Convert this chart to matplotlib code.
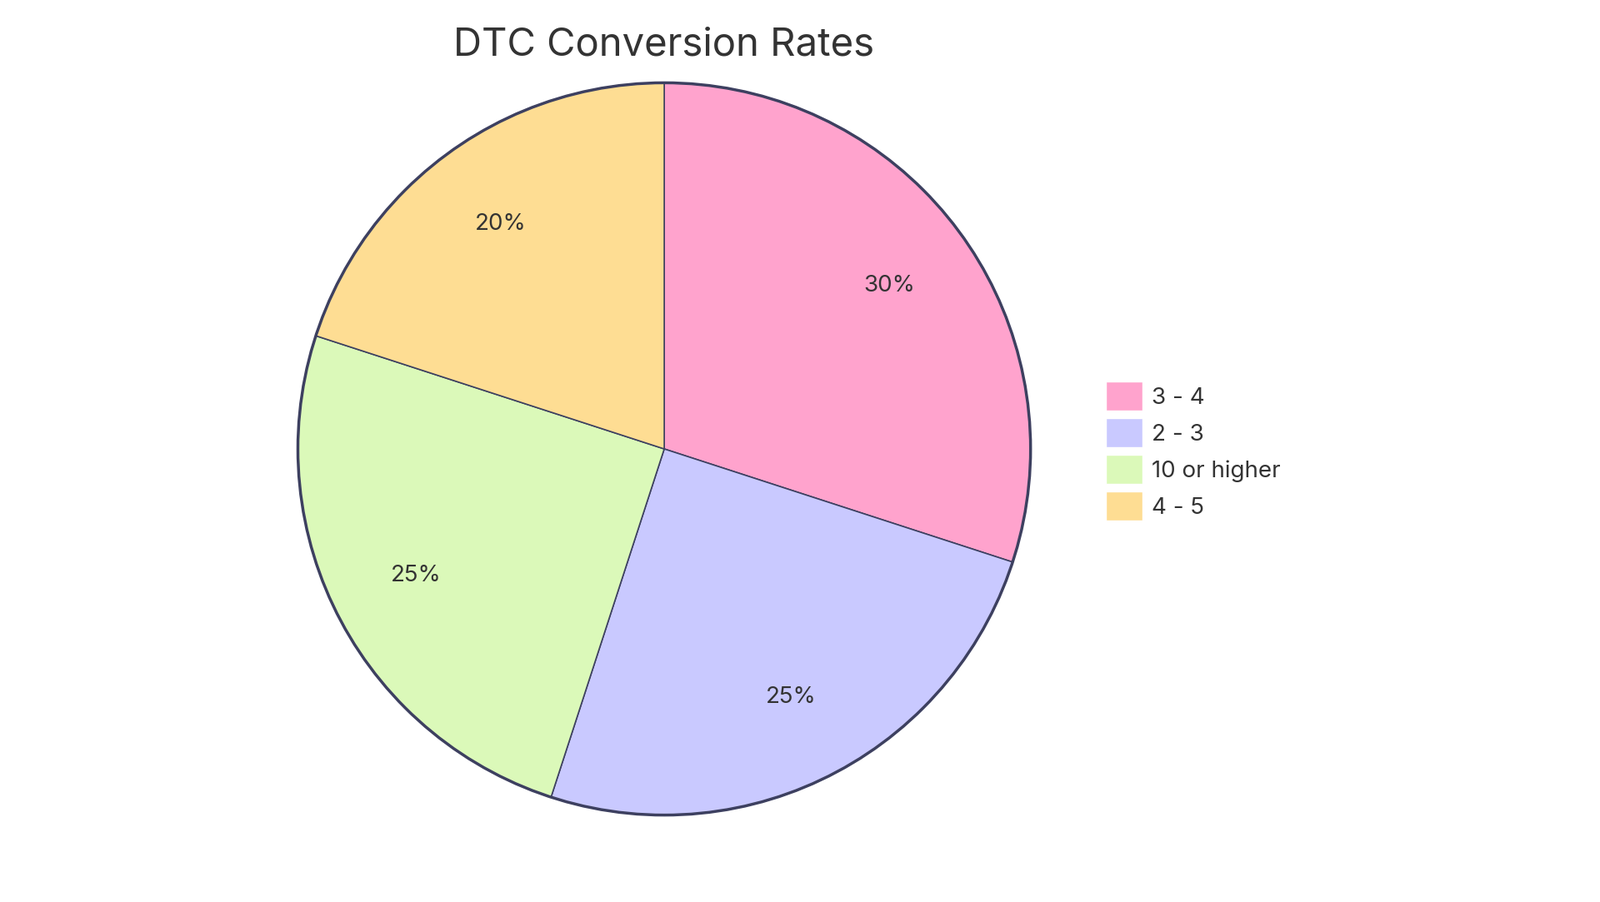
import matplotlib
matplotlib.use("Agg")
import matplotlib.pyplot as plt
from matplotlib.patches import Patch

categories = ["3 - 4", "2 - 3", "10 or higher", "4 - 5"]
values = [30, 25, 25, 20]
colors = ["#ffa3cd", "#c9c9ff", "#dbf9b9", "#fedd93"]
edge = "#3d4060"
plt.rcParams["font.family"] = "Inter"

fig = plt.figure(figsize=(19.2, 10.83), dpi=100)
ax = fig.add_axes([0.1839, 0.0923, 0.4625, 0.82])
wedges, texts, autotexts = ax.pie(values, colors=colors, startangle=90, counterclock=False,
       autopct="%1.0f%%", pctdistance=0.76,
       wedgeprops=dict(edgecolor=edge, linewidth=1.5),
       textprops=dict(fontsize=20, color="#333333"))
for w in wedges:
    w.set_linewidth(1.2)
circle = plt.Circle((0, 0), 1, fill=False, edgecolor=edge, linewidth=2.5)
ax.add_patch(circle)
ax.set_aspect("equal")
ax.set_xlim(-1.01, 1.01); ax.set_ylim(-1.01, 1.01)
fig.text(0.415, 0.97, "DTC Conversion Rates", ha="center", va="top", fontsize=34, color="#333333")
handles = [Patch(facecolor=c, edgecolor="white") for c in colors]
fig.legend(handles, categories, loc="center left", bbox_to_anchor=(0.678, 0.5),
           frameon=False, fontsize=20, handlelength=1.6, handleheight=1.6,
           handletextpad=0.4, labelspacing=0.3, labelcolor="#333333")
fig.savefig("out.png", dpi=100, facecolor="white")
